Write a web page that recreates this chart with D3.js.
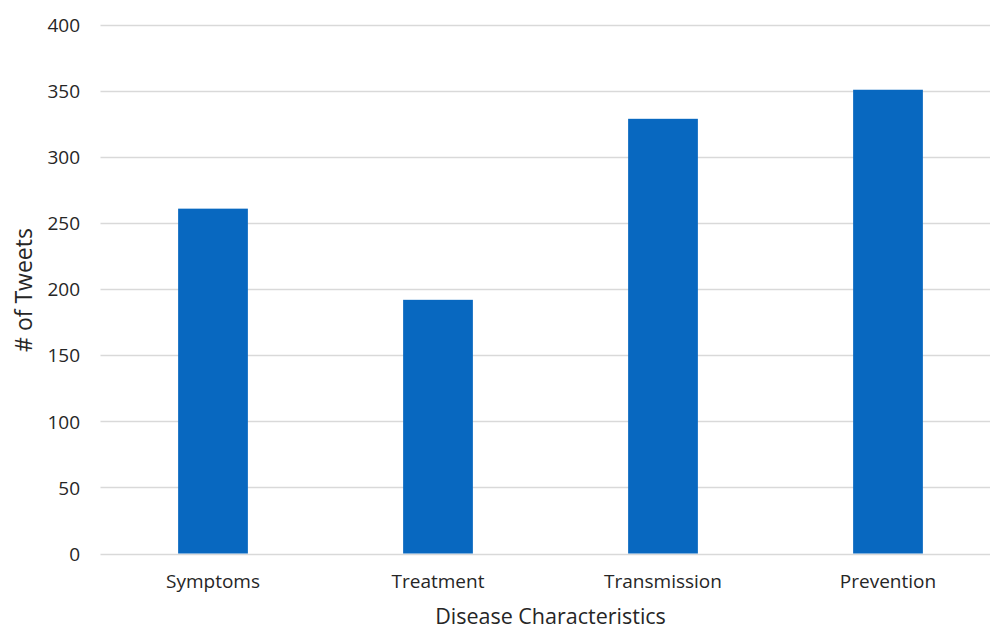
<!DOCTYPE html>
<html><head><meta charset="utf-8">
<script src="https://cdn.jsdelivr.net/npm/d3@7"></script>
<style>body{margin:0;background:#fff;} text{font-family:"Open Sans","Noto Sans",sans-serif;}</style>
</head><body>
<svg id="c" width="990" height="630"></svg>
<script>
const categories = ["Symptoms", "Treatment", "Transmission", "Prevention"];
const values = [261, 192, 329, 351];
const yTicks = [0, 50, 100, 150, 200, 250, 300, 350, 400];

(function () {
const svg = d3.select("#c");
const pLeft = 100.5, pRight = 1000.5, pTop = 25, pBottom = 553.5;
const x = d3.scaleBand().domain(categories).range([pLeft, pRight]).paddingInner(0.69).paddingOuter(0.345);
const y = d3.scaleLinear().domain([0, 400]).range([pBottom, pTop]);

// gridlines
svg.append("g").selectAll("line").data(yTicks).join("line")
  .attr("x1", pLeft).attr("x2", pRight)
  .attr("y1", d => Math.round(y(d)) + 0.5).attr("y2", d => Math.round(y(d)) + 0.5)
  .attr("stroke", "#d9d9d9").attr("stroke-width", 1.3);

// y axis labels
const yAxis = d3.axisLeft(y).tickValues(yTicks).tickSize(0).tickPadding(0);
const ga = svg.append("g").attr("transform", `translate(80,0)`).call(yAxis);
ga.select(".domain").remove();
ga.selectAll("text").attr("font-size", 19).attr("fill", "#262626").attr("dy", "0.35em");

// bars
svg.append("g").selectAll("rect").data(values).join("rect")
  .attr("x", (d, i) => x(categories[i]))
  .attr("width", x.bandwidth())
  .attr("y", d => y(d))
  .attr("height", d => y(0) - y(d))
  .attr("fill", "#0868c0");

// x axis labels
const xAxis = d3.axisBottom(x).tickSize(0).tickPadding(0);
const gx = svg.append("g").attr("transform", `translate(0,${pBottom + 21})`).call(xAxis);
gx.select(".domain").remove();
gx.selectAll("text").attr("font-size", 19).attr("fill", "#262626").attr("dy", "0.71em");

// axis titles
svg.append("text").attr("x", (pLeft + pRight) / 2).attr("y", 624)
  .attr("text-anchor", "middle").attr("font-size", 21.5).attr("fill", "#262626")
  .text("Disease Characteristics");
svg.append("text").attr("transform", "translate(32,290) rotate(-90)")
  .attr("text-anchor", "middle").attr("font-size", 23).attr("fill", "#262626")
  .text("# of Tweets");
})();
</script>
</body></html>
